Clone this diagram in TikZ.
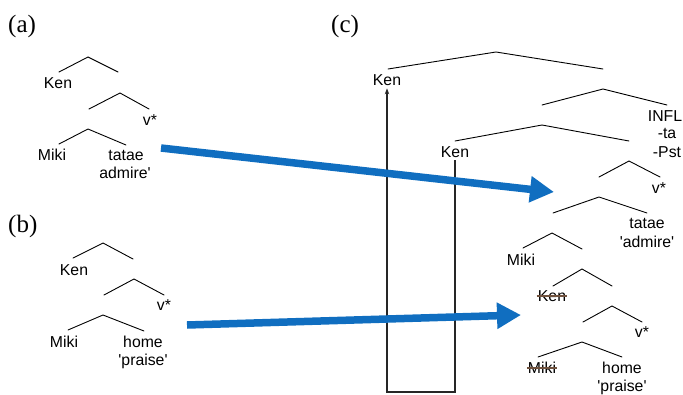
\documentclass[tikz,border=0pt]{standalone}
\usepackage{fontspec}
\usetikzlibrary{arrows.meta}
\newfontfamily\labfont{Liberation Sans}
\newfontfamily\panelfont{Liberation Serif}
\definecolor{movearrow}{RGB}{16,110,192}
\definecolor{strikecol}{RGB}{112,82,62}
\newcommand\sq{\textquotesingle}
% a binary branch: left foot, apex, right foot
\newcommand\branch[4]{%
  \coordinate (#1-l) at (#2);
  \coordinate (#1-a) at (#3);
  \coordinate (#1-r) at (#4);
  \draw[branch] (#1-l) -- (#1-a) -- (#1-r);}
% strike a word through
\newcommand\strikeout[1]{%
  \draw[struck] ([xshift=-1pt,yshift=5pt]#1.base west) -- ([xshift=1pt,yshift=5pt]#1.base east);}
\begin{document}
\begin{tikzpicture}[x=1pt,y=-1pt,
  lab/.style={font=\labfont\fontsize{15.8}{18}\selectfont, inner sep=0pt, anchor=base},
  panel/.style={font=\panelfont\fontsize{25}{30}\selectfont, inner sep=0pt, anchor=base west},
  branch/.style={line width=0.9pt, line cap=round},
  bigarrow/.style={draw=movearrow, line width=7.5pt, -{Triangle[length=24pt,width=25pt]}},
  trace/.style={draw=black!85, line width=1.3pt},
  struck/.style={draw=strikecol, line width=1.2pt}]
\useasboundingbox (0,0) rectangle (683,394);

% panel tags
\node[panel] (tag-a) at (8,32) {(a)};
\node[panel] (tag-b) at (8,232) {(b)};
\node[panel] (tag-c) at (331,32) {(c)};

% ---- tree (a)
\branch{a1}{59,72}{88,57}{118,72}
\branch{a2}{89,109}{120,93}{149,109}
\branch{a3}{59,144}{88,129}{126,145}
\node[lab] (a-ken) at (58,88) {Ken};
\node[lab] (a-v) at (150,125) {v*};
\node[lab] (a-miki) at (52,160) {Miki};
\node[lab] (a-verb) at (126,160) {tatae};
\node[lab] (a-gloss) at (125,178) {admire\sq};

% ---- tree (b)
\branch{b1}{73,258}{103,243}{133,259}
\branch{b2}{104,295}{134,279}{164,295}
\branch{b3}{68,330}{103,315}{144,331}
\node[lab] (b-ken) at (74,275) {Ken};
\node[lab] (b-v) at (164,310) {v*};
\node[lab] (b-miki) at (64,347) {Miki};
\node[lab] (b-verb) at (143,347) {home};
\node[lab] (b-gloss) at (143,365) {\sq praise\sq};

% ---- tree (c)
\branch{c1}{388,69}{496,52}{603,69}
\branch{c2}{542,105}{603,89}{667,105}
\branch{c3}{455,141}{542,125}{629,141}
\branch{c4}{599,177}{629,161}{660,177}
\branch{c5}{553,213}{599,197}{647,213}
\branch{c6}{523,248}{552,233}{582,249}
\branch{c7}{553,286}{582,269}{612,286}
\branch{c8}{583,322}{612,306}{642,322}
\branch{c9}{538,357}{582,342}{622,357}
\node[lab] (c-kentop) at (387,85) {Ken};
\node[lab] (c-infl) at (665,121) {INFL};
\node[lab] (c-ta) at (667,138) {-ta};
\node[lab] (c-pst) at (667,157) {-Pst};
\node[lab] (c-kenmid) at (455,157) {Ken};
\node[lab] (c-v1) at (659,193) {v*};
\node[lab] (c-verb1) at (647,228) {tatae};
\node[lab] (c-gloss1) at (647,247) {\sq admire\sq};
\node[lab] (c-miki1) at (521,265) {Miki};
\node[lab] (c-kenlow) at (552,301) {Ken};
\node[lab] (c-v2) at (642,337) {v*};
\node[lab] (c-miki2) at (542,373) {Miki};
\node[lab] (c-verb2) at (622,373) {home};
\node[lab] (c-gloss2) at (622,391) {\sq praise\sq};
\strikeout{c-kenlow}
\strikeout{c-miki2}

% movement path of Ken
\coordinate (trace-r) at (455,392);
\coordinate (trace-l) at (387,392);
\draw[trace, -{Stealth[length=6pt,width=4.5pt]}]
  ([yshift=-3pt]c-kenmid.south) -- (trace-r) -- (trace-l) -- ([yshift=-3pt]c-kentop.south);

% embedding arrows
\coordinate (a-out) at (161,148);
\coordinate (a-in) at (554,192);
\coordinate (b-out) at (187,325);
\coordinate (b-in) at (521,315);
\draw[bigarrow] (a-out) -- (a-in);
\draw[bigarrow] (b-out) -- (b-in);
\end{tikzpicture}
\end{document}
